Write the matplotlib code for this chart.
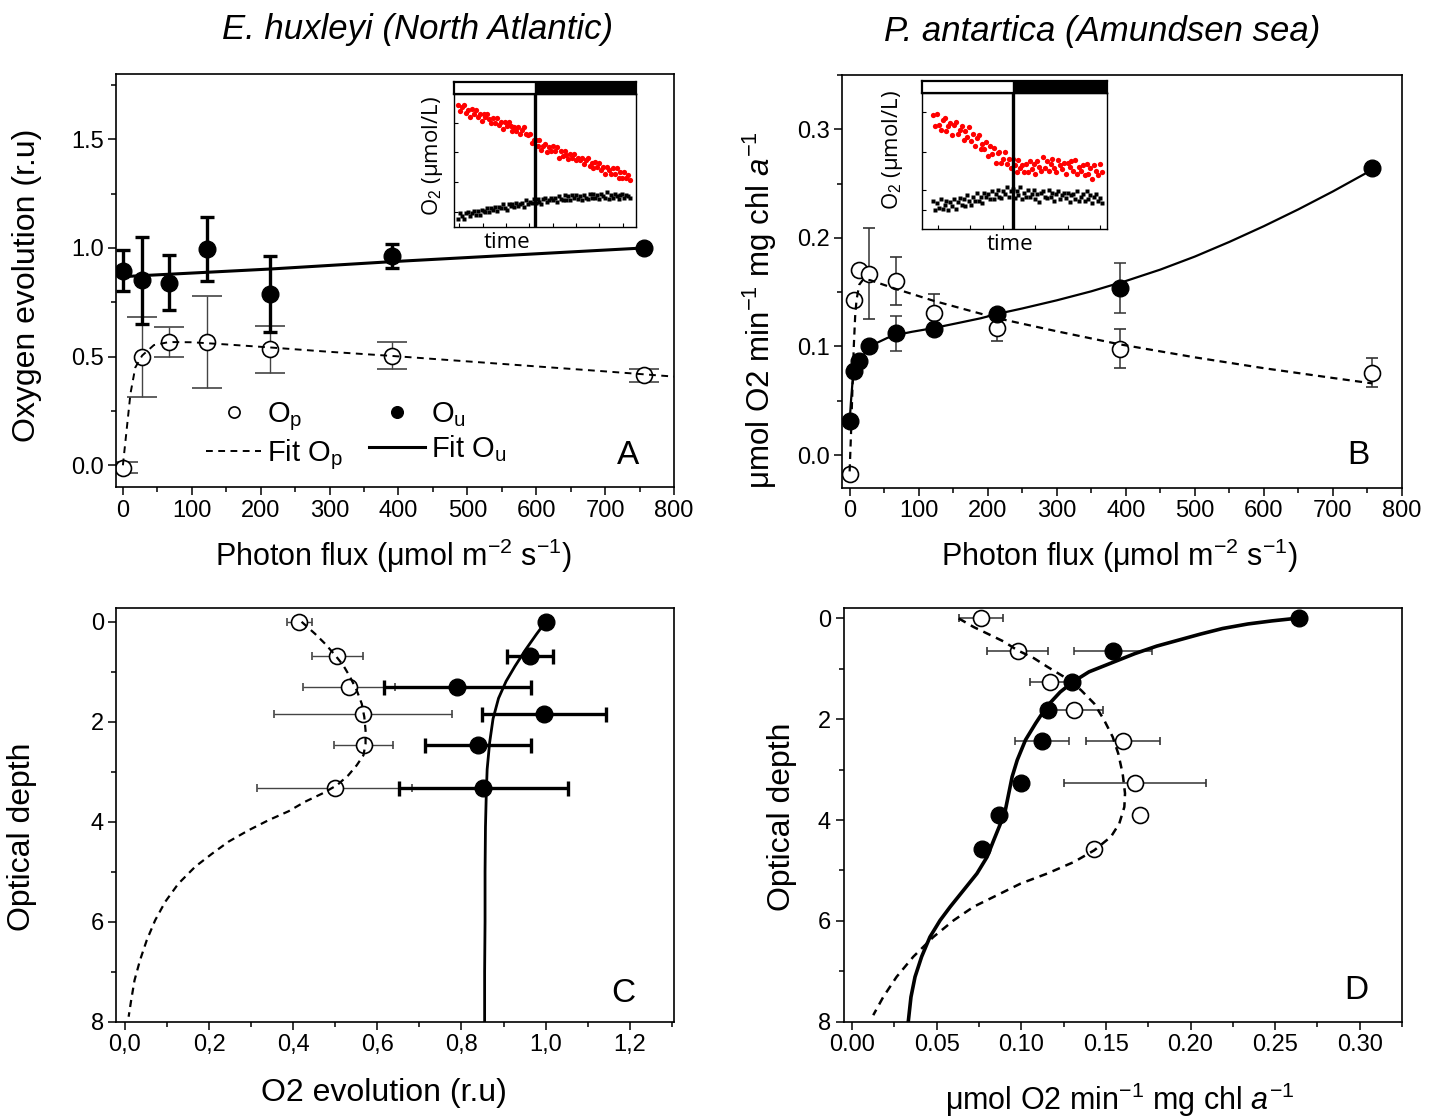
import numpy as np
import matplotlib
matplotlib.use('Agg')
import matplotlib.pyplot as plt
from matplotlib.lines import Line2D
from matplotlib.ticker import MultipleLocator, FuncFormatter

plt.rcParams['font.family'] = ['Liberation Sans', 'DejaVu Sans']
plt.rcParams['mathtext.fontset'] = 'custom'
plt.rcParams['mathtext.rm'] = 'Liberation Sans'
plt.rcParams['mathtext.it'] = 'Liberation Sans:italic'
plt.rcParams['mathtext.bf'] = 'Liberation Sans:bold'
plt.rcParams['axes.linewidth'] = 1.2

# ---- panel A: E. huxleyi, oxygen evolution vs photon flux
light_a = [0, 28, 67, 122, 214, 391, 757]
op_a = [-0.011, 0.499, 0.568, 0.566, 0.533, 0.505, 0.415]
op_a_err = [0.025, 0.184, 0.07, 0.212, 0.109, 0.06, 0.03]
ou_a = [0.895, 0.852, 0.84, 0.996, 0.79, 0.963, 1.0]
ou_a_err = [0.095, 0.2, 0.126, 0.147, 0.175, 0.054, 0.0]

fit_a_p_light = [0, 3, 6, 11, 18, 28, 45, 67, 100, 150, 214, 300, 391, 500, 600, 700, 800]
fit_a_p = [0.0, 0.09, 0.18, 0.33, 0.45, 0.505, 0.553, 0.567, 0.566, 0.556, 0.542,
           0.522, 0.503, 0.478, 0.455, 0.432, 0.408]
fit_a_u_light = [0, 214, 391, 757]
fit_a_u = [0.868, 0.903, 0.937, 1.0]

# ---- panel B: P. antartica
light_b = [0, 7, 14, 28, 67, 122, 214, 391, 757]
op_b = [-0.017, 0.143, 0.170, 0.167, 0.160, 0.131, 0.117, 0.098, 0.076]
op_b_err = [0.004, 0.0, 0.0, 0.042, 0.022, 0.017, 0.012, 0.018, 0.013]
ou_b = [0.031, 0.077, 0.087, 0.100, 0.112, 0.116, 0.130, 0.154, 0.264]
ou_b_err = [0.0, 0.0, 0.0, 0.0, 0.016, 0.0, 0.0, 0.023, 0.0]

fit_b_u_light = [0, 2, 4, 7, 10, 14, 20, 28, 40, 55, 67, 90, 122, 160, 190, 214, 250,
                 300, 350, 400, 450, 500, 550, 600, 650, 700, 757]
fit_b_u = [0.031, 0.05, 0.066, 0.077, 0.081, 0.086, 0.092, 0.099, 0.1035, 0.108, 0.1105,
           0.1135, 0.117, 0.122, 0.126, 0.130, 0.135, 0.1425, 0.1508, 0.1603, 0.1708,
           0.1828, 0.1963, 0.2108, 0.2263, 0.2428, 0.2628]
fit_b_p_light = [0, 2, 4, 6, 8, 10, 14, 20, 30, 67, 122, 214, 300, 391, 500, 600, 700, 757]
fit_b_p = [-0.015, 0.02, 0.06, 0.10, 0.128, 0.143, 0.157, 0.162, 0.161, 0.153, 0.142,
           0.126, 0.114, 0.102, 0.090, 0.080, 0.071, 0.066]

# ---- panel C: E. huxleyi vs optical depth (757, 391, 214, 122, 67, 28 umol)
depth_c = [0.0, 0.68, 1.30, 1.85, 2.47, 3.33]
fit_c_u_depth = [0.0, 0.25, 0.55, 0.89, 1.19, 1.53, 1.94, 2.41, 2.95, 3.42, 4.1, 5.0, 6.0, 7.0, 8.0]
fit_c_u = [1.0, 0.978, 0.953, 0.927, 0.906, 0.888, 0.875, 0.867, 0.861, 0.859, 0.857,
           0.856, 0.856, 0.855, 0.855]
fit_c_p_depth = [0.0, 0.24, 0.44, 0.67, 0.87, 1.10, 1.37, 1.64, 1.90, 2.17, 2.44, 2.67,
                 2.87, 3.07, 3.27, 3.44, 3.60, 3.79, 3.97, 4.17, 4.40, 4.64, 4.90, 5.24,
                 5.60, 5.97, 6.37, 6.77, 7.17, 7.57, 7.90]
fit_c_p = [0.42, 0.452, 0.476, 0.5, 0.519, 0.535, 0.551, 0.563, 0.569, 0.572, 0.572,
           0.567, 0.551, 0.531, 0.504, 0.468, 0.428, 0.389, 0.341, 0.294, 0.246, 0.207,
           0.167, 0.127, 0.096, 0.072, 0.052, 0.036, 0.023, 0.015, 0.009]

# ---- panel D: P. antartica vs optical depth (757 ... 7 umol)
depth_d = [0.0, 0.65, 1.26, 1.82, 2.43, 3.27, 3.9, 4.58]
fit_d_u_depth = [0.0, 0.05, 0.11, 0.20, 0.31, 0.43, 0.55, 0.70, 0.86, 1.06, 1.26, 1.46,
                 1.75, 2.08, 2.41, 2.81, 3.14, 3.47, 3.80, 4.07, 4.40, 4.73, 5.06, 5.39,
                 5.72, 5.99, 6.32, 6.71, 7.11, 7.51, 8.0]
fit_d_u = [0.262, 0.248, 0.234, 0.219, 0.206, 0.193, 0.180, 0.167, 0.155, 0.140, 0.1305,
           0.123, 0.115, 0.1085, 0.1025, 0.0976, 0.0946, 0.0926, 0.0906, 0.0877, 0.0837,
           0.0798, 0.0738, 0.0659, 0.058, 0.052, 0.046, 0.0411, 0.0372, 0.0348, 0.0332]
fit_d_p_depth = [0.0, 0.17, 0.33, 0.46, 0.63, 0.79, 0.96, 1.16, 1.42, 1.69, 2.02, 2.35,
                 2.68, 3.08, 3.47, 3.74, 4.07, 4.33, 4.60, 4.83, 5.06, 5.26, 5.49, 5.72,
                 5.99, 6.32, 6.71, 7.11, 7.51, 7.87]
fit_d_p = [0.063, 0.0718, 0.0817, 0.0897, 0.0976, 0.1075, 0.1154, 0.1253, 0.1352, 0.1431,
           0.149, 0.154, 0.1573, 0.1599, 0.1613, 0.1609, 0.1579, 0.153, 0.1431, 0.1312,
           0.1154, 0.0996, 0.0857, 0.0718, 0.060, 0.048, 0.0362, 0.0263, 0.0184, 0.0125]

# ---- inset traces (O2, arbitrary units, light then dark)
inset_a_red = [92, 87, 90, 92, 86, 88, 83, 89, 85, 88,
               83, 85, 80, 85, 83, 85, 81, 78, 82, 78,
               82, 77, 79, 74, 79, 76, 79, 76, 72, 75,
               72, 75, 70, 73, 75, 70, 69, 70, 63, 65,
               65, 61, 65, 58, 61, 62, 56, 60, 57, 61,
               57, 60, 52, 57, 53, 57, 54, 51, 55, 52,
               55, 50, 52, 50, 52, 47, 50, 52, 46, 48,
               44, 49, 45, 48, 43, 45, 40, 45, 43, 40,
               44, 40, 44, 37, 41, 37, 41, 37, 39, 35]
inset_a_black = [6, 10, 8, 6, 10, 11, 8, 10, 12, 9,
                 12, 9, 13, 12, 11, 14, 11, 14, 13, 15,
                 12, 15, 14, 17, 14, 13, 17, 16, 17, 15,
                 18, 16, 17, 18, 15, 20, 17, 19, 18, 21,
                 18, 21, 19, 17, 21, 22, 19, 20, 22, 20,
                 22, 19, 23, 21, 20, 24, 20, 23, 20, 24,
                 22, 24, 21, 23, 20, 24, 22, 21, 25, 22,
                 25, 22, 24, 21, 25, 23, 22, 26, 21, 24,
                 22, 25, 23, 21, 24, 25, 22, 24, 23, 22]
inset_b_red = [84, 76, 85, 77, 73, 80, 82, 72, 76, 78,
               69, 77, 79, 70, 73, 76, 66, 72, 68, 75,
               65, 70, 61, 67, 69, 59, 63, 59, 64, 54,
               61, 55, 60, 49, 56, 57, 49, 52, 57, 48,
               52, 45, 52, 47, 42, 51, 45, 47, 42, 48,
               42, 50, 44, 48, 41, 50, 46, 43, 53, 45,
               50, 43, 48, 52, 45, 42, 51, 47, 44, 49,
               41, 49, 46, 50, 43, 51, 41, 46, 43, 47,
               40, 48, 41, 45, 37, 47, 43, 40, 48, 42]
inset_b_black = [21, 14, 19, 16, 22, 15, 18, 21, 14, 20,
                 17, 22, 15, 20, 23, 18, 22, 17, 25, 21,
                 18, 24, 21, 27, 21, 24, 19, 27, 24, 26,
                 22, 28, 22, 26, 29, 24, 23, 28, 26, 31,
                 24, 28, 30, 23, 28, 25, 31, 22, 27, 24,
                 29, 24, 26, 29, 22, 26, 20, 27, 28, 24,
                 23, 29, 24, 27, 21, 26, 28, 22, 25, 27,
                 23, 27, 20, 25, 26, 22, 28, 21, 24, 26,
                 21, 28, 22, 25, 19, 24, 26, 21, 23, 19]
light_off_a = 39.6
light_off_b = 41.9

OPEN = dict(fmt='o', ms=11.5, mfc='white', mec='k', mew=1.2)
FILLED = dict(fmt='o', ms=12, mfc='k', mec='k')
DASH = (0, (3.2, 2.4))


def style_axes(ax):
    ax.tick_params(which='both', direction='out', top=False, right=False,
                   labelsize=17, width=1.1, pad=3)
    ax.tick_params(which='major', length=6)
    ax.tick_params(which='minor', length=3.5)


fig = plt.figure(figsize=(14.34, 11.17), dpi=100)

ax_a = fig.add_axes([0.0809, 0.5640, 0.3891, 0.3697])
ax_b = fig.add_axes([0.5872, 0.5634, 0.3905, 0.3695])
ax_c = fig.add_axes([0.0812, 0.0853, 0.3888, 0.3701])
ax_d = fig.add_axes([0.5883, 0.0853, 0.3894, 0.3701])

# ---------------- A
ax_a.errorbar(light_a, op_a, yerr=op_a_err, ecolor='#444444', elinewidth=1.0,
              capsize=10.5, capthick=1.0, zorder=2, **OPEN)
ax_a.errorbar(light_a, ou_a, yerr=ou_a_err, ecolor='k', elinewidth=2.4,
              capsize=5, capthick=2.4, zorder=2, **FILLED)
ax_a.plot(fit_a_p_light, fit_a_p, color='k', lw=1.4, ls=(0, (3.5, 2.8)), zorder=3)
ax_a.plot(fit_a_u_light, fit_a_u, color='k', lw=2.2, zorder=3)
ax_a.set_xlim(-10, 800)
ax_a.set_ylim(-0.1, 1.8)
ax_a.xaxis.set_major_locator(MultipleLocator(100))
ax_a.xaxis.set_minor_locator(MultipleLocator(50))
ax_a.yaxis.set_major_locator(MultipleLocator(0.5))
ax_a.yaxis.set_minor_locator(MultipleLocator(0.25))
ax_a.yaxis.set_major_formatter(FuncFormatter(lambda v, p: f'{v:.1f}'))
style_axes(ax_a)
ax_a.set_xlabel('Photon flux (μmol m$^{-2}$ s$^{-1}$)', fontsize=22, va='center')
ax_a.xaxis.set_label_coords(0.498, -0.167)
ax_a.set_ylabel('Oxygen evolution (r.u)', fontsize=23, va='center')
ax_a.yaxis.set_label_coords(-0.160, 0.488)
ax_a.text(0.918, 0.077, 'A', transform=ax_a.transAxes, fontsize=24, ha='center', va='center')

handles = [
    Line2D([], [], ls='none', marker='o', ms=11.5, mfc='white', mec='k', mew=1.2),
    Line2D([], [], color='k', lw=1.4, ls=(0, (3.5, 2.8))),
    Line2D([], [], ls='none', marker='o', ms=12, mfc='k', mec='k'),
    Line2D([], [], color='k', lw=2.2),
]
labels = ['O$_\\mathrm{p}$', 'Fit O$_\\mathrm{p}$', 'O$_\\mathrm{u}$', 'Fit O$_\\mathrm{u}$']
ax_a.legend(handles, labels, ncol=2, frameon=False, fontsize=21, loc='center',
            bbox_to_anchor=(0.43, 0.124), handlelength=1.9, handletextpad=0.2,
            columnspacing=0.9, labelspacing=0.15, markerscale=0.7)

# ---------------- B
ax_b.errorbar(light_b, op_b, yerr=op_b_err, ecolor='#333333', elinewidth=1.1,
              capsize=4, capthick=1.1, zorder=2, **OPEN)
ax_b.errorbar(light_b, ou_b, yerr=ou_b_err, ecolor='#333333', elinewidth=1.1,
              capsize=4, capthick=1.1, zorder=2, **FILLED)
ax_b.plot(fit_b_p_light, fit_b_p, color='k', lw=1.6, ls=DASH, zorder=3)
ax_b.plot(fit_b_u_light, fit_b_u, color='k', lw=1.6, zorder=3)
ax_b.set_xlim(-11, 800)
ax_b.set_ylim(-0.03, 0.35)
ax_b.xaxis.set_major_locator(MultipleLocator(100))
ax_b.xaxis.set_minor_locator(MultipleLocator(50))
ax_b.yaxis.set_major_locator(MultipleLocator(0.1))
ax_b.yaxis.set_minor_locator(MultipleLocator(0.05))
ax_b.yaxis.set_major_formatter(FuncFormatter(lambda v, p: f'{v:.1f}'))
style_axes(ax_b)
ax_b.set_xlabel('Photon flux (μmol m$^{-2}$ s$^{-1}$)', fontsize=22, va='center')
ax_b.xaxis.set_label_coords(0.496, -0.165)
ax_b.set_ylabel('μmol O2 min$^{-1}$ mg chl $a^{-1}$', fontsize=22.5, va='center')
ax_b.yaxis.set_label_coords(-0.146, 0.43)
ax_b.text(0.922, 0.079, 'B', transform=ax_b.transAxes, fontsize=24, ha='center', va='center')

# ---------------- C
ax_c.errorbar(op_a[:0:-1], depth_c, xerr=op_a_err[:0:-1], ecolor='#444444',
              elinewidth=1.0, capsize=3, capthick=1.0, zorder=2, **OPEN)
ax_c.errorbar(ou_a[:0:-1], depth_c, xerr=ou_a_err[:0:-1], ecolor='k',
              elinewidth=2.4, capsize=5.4, capthick=2.4, zorder=2, **FILLED)
ax_c.plot(fit_c_p, fit_c_p_depth, color='k', lw=1.6, ls=DASH, zorder=3)
ax_c.plot(fit_c_u, fit_c_u_depth, color='k', lw=2.0, zorder=3)
ax_c.set_xlim(-0.02, 1.305)
ax_c.set_ylim(8, -0.27)
ax_c.xaxis.set_major_locator(MultipleLocator(0.2))
ax_c.xaxis.set_minor_locator(MultipleLocator(0.1))
ax_c.xaxis.set_major_formatter(FuncFormatter(lambda v, p: f'{v:.1f}'.replace('.', ',')))
ax_c.yaxis.set_major_locator(MultipleLocator(2))
ax_c.yaxis.set_minor_locator(MultipleLocator(1))
style_axes(ax_c)
ax_c.set_xlabel('O2 evolution (r.u)', fontsize=23, va='center')
ax_c.xaxis.set_label_coords(0.479, -0.172)
ax_c.set_ylabel('Optical depth', fontsize=23, va='center')
ax_c.yaxis.set_label_coords(-0.169, 0.447)
ax_c.text(0.91, 0.068, 'C', transform=ax_c.transAxes, fontsize=24, ha='center', va='center')

# ---------------- D
ax_d.errorbar(op_b[:0:-1], depth_d, xerr=op_b_err[:0:-1], ecolor='#333333',
              elinewidth=1.1, capsize=3, capthick=1.1, zorder=2, **OPEN)
ax_d.errorbar(ou_b[:0:-1], depth_d, xerr=ou_b_err[:0:-1], ecolor='#333333',
              elinewidth=1.1, capsize=3, capthick=1.1, zorder=2, **FILLED)
ax_d.plot(fit_d_p, fit_d_p_depth, color='k', lw=1.8, ls=DASH, zorder=3)
ax_d.plot(fit_d_u, fit_d_u_depth, color='k', lw=2.6, zorder=3)
ax_d.set_xlim(-0.005, 0.325)
ax_d.set_ylim(8, -0.2)
ax_d.xaxis.set_major_locator(MultipleLocator(0.05))
ax_d.xaxis.set_minor_locator(MultipleLocator(0.025))
ax_d.xaxis.set_major_formatter(FuncFormatter(lambda v, p: f'{v:.2f}'))
ax_d.yaxis.set_major_locator(MultipleLocator(2))
ax_d.yaxis.set_minor_locator(MultipleLocator(1))
style_axes(ax_d)
ax_d.set_xlabel('μmol O2 min$^{-1}$ mg chl $a^{-1}$', fontsize=22, va='center')
ax_d.xaxis.set_label_coords(0.495, -0.19)
ax_d.set_ylabel('Optical depth', fontsize=23, va='center')
ax_d.yaxis.set_label_coords(-0.111, 0.495)
ax_d.text(0.918, 0.076, 'D', transform=ax_d.transAxes, fontsize=24, ha='center', va='center')


# ---------------- insets: raw O2 traces, light period then dark
def draw_inset(rect, bar_rect, red, black, light_off, xlim, xticks, yticks, ylab_xy, time_xy):
    ax_in = fig.add_axes(rect)
    idx = np.arange(len(red))
    ax_in.plot(idx, red, 'o', ms=3.8, color='#ff0000', mec='none')
    ax_in.plot(idx, black, 's', ms=3.2, color='k', mec='none')
    ax_in.axvline(light_off, color='k', lw=2.4)
    ax_in.set_xlim(xlim)
    ax_in.set_ylim(0, 100)
    ax_in.set_xticks(xticks)
    ax_in.set_yticks(yticks)
    ax_in.tick_params(direction='in', length=3, width=0.8, labelbottom=False, labelleft=False)
    for s in ax_in.spines.values():
        s.set_linewidth(1.0)
    ax_in.set_ylabel('O$_2$ (μmol/L)', fontsize=16, family=['Open Sans', 'DejaVu Sans'], va='center')
    ax_in.yaxis.set_label_coords(*ylab_xy)
    ax_in.text(time_xy[0], time_xy[1], 'time', transform=ax_in.transAxes, ha='center',
               va='center', fontsize=16, family=['Open Sans', 'DejaVu Sans'])

    ax_bar = fig.add_axes(bar_rect)
    ax_bar.axvspan(xlim[0], light_off, color='white')
    ax_bar.axvspan(light_off, xlim[1], color='k')
    ax_bar.set_xlim(xlim)
    ax_bar.set_ylim(0, 1)
    ax_bar.set_xticks([])
    ax_bar.set_yticks([])
    for s in ax_bar.spines.values():
        s.set_linewidth(1.6)


draw_inset([0.3166, 0.7970, 0.1267, 0.1188], [0.3166, 0.9158, 0.1267, 0.0105],
           inset_a_red, inset_a_black, light_off_a, (-2.3, 91.9),
           np.arange(0.5, 90, 12.1), [11.3, 33.7, 56.1, 78.5], (-0.116, 0.53), (0.29, -0.115))
draw_inset([0.6427, 0.7947, 0.1294, 0.1218], [0.6427, 0.9165, 0.1294, 0.0110],
           inset_b_red, inset_b_black, light_off_b, (-6.13, 91.9),
           np.arange(2.3, 90, 17.2), [14.2, 28.9, 57.1, 86.5], (-0.155, 0.58), (0.477, -0.115))

fig.text(0.2915, 0.974, 'E. huxleyi (North Atlantic)', fontsize=25, style='italic',
         ha='center', va='center')
fig.text(0.7685, 0.972, 'P. antartica (Amundsen sea)', fontsize=25, style='italic',
         ha='center', va='center')

fig.savefig('out.png', dpi=100, facecolor='white')
